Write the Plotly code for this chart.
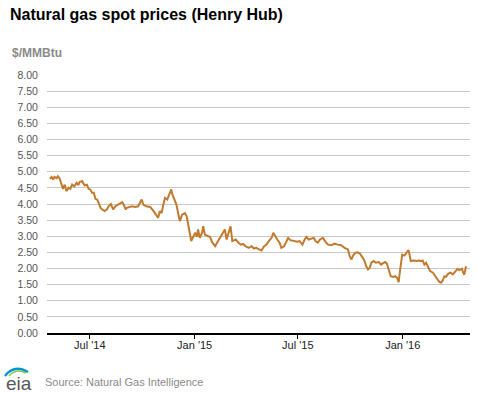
import plotly.graph_objects as go

dates = [
    "2014-04-22","2014-04-25","2014-04-28","2014-04-30",
    "2014-05-04","2014-05-06","2014-05-09","2014-05-12","2014-05-15","2014-05-18","2014-05-21","2014-05-25","2014-05-28","2014-05-31",
    "2014-06-04","2014-06-08","2014-06-11","2014-06-13","2014-06-18","2014-06-19","2014-06-22","2014-06-26","2014-06-29",
    "2014-07-02","2014-07-05","2014-07-08","2014-07-11","2014-07-14","2014-07-17","2014-07-20","2014-07-23","2014-07-27","2014-07-31",
    "2014-08-03","2014-08-07","2014-08-11","2014-08-15","2014-08-19","2014-08-24","2014-08-27","2014-08-30",
    "2014-09-02","2014-09-04","2014-09-09","2014-09-13","2014-09-19","2014-09-24","2014-09-30",
    "2014-10-03","2014-10-08","2014-10-15","2014-10-21","2014-10-26","2014-10-29",
    "2014-11-01","2014-11-04","2014-11-07","2014-11-10","2014-11-14","2014-11-17","2014-11-21","2014-11-23","2014-11-26","2014-11-30",
    "2014-12-03","2014-12-06","2014-12-10","2014-12-15","2014-12-18","2014-12-22","2014-12-26","2014-12-30",
    "2015-01-02","2015-01-05","2015-01-07","2015-01-10","2015-01-14","2015-01-16","2015-01-19","2015-01-25","2015-01-28",
    "2015-02-01","2015-02-06","2015-02-11","2015-02-16","2015-02-20","2015-02-23","2015-02-26",
    "2015-03-01","2015-03-05","2015-03-08","2015-03-14","2015-03-19","2015-03-23","2015-03-27","2015-03-31",
    "2015-04-06","2015-04-11","2015-04-15","2015-04-19","2015-04-24","2015-04-28",
    "2015-05-03","2015-05-07","2015-05-11","2015-05-16","2015-05-19","2015-05-22","2015-05-26","2015-05-30",
    "2015-06-02","2015-06-07","2015-06-11","2015-06-14","2015-06-18","2015-06-24","2015-06-30",
    "2015-07-04","2015-07-09","2015-07-13","2015-07-16","2015-07-20","2015-07-25","2015-07-29",
    "2015-08-01","2015-08-05","2015-08-09","2015-08-14","2015-08-19","2015-08-23","2015-08-29",
    "2015-09-03","2015-09-09","2015-09-15","2015-09-21","2015-09-27","2015-09-30",
    "2015-10-03","2015-10-06","2015-10-10","2015-10-14","2015-10-18","2015-10-23","2015-10-26","2015-10-29",
    "2015-11-01","2015-11-04","2015-11-07","2015-11-11","2015-11-15","2015-11-20","2015-11-24","2015-11-27",
    "2015-12-01","2015-12-04","2015-12-09","2015-12-11","2015-12-15","2015-12-19","2015-12-22","2015-12-25","2015-12-26","2015-12-29","2015-12-31",
    "2016-01-04","2016-01-07","2016-01-11","2016-01-13","2016-01-15","2016-01-20","2016-01-25","2016-01-29",
    "2016-02-02","2016-02-05","2016-02-08","2016-02-11","2016-02-15","2016-02-18","2016-02-23","2016-02-27",
    "2016-03-02","2016-03-05","2016-03-08","2016-03-11","2016-03-14","2016-03-17","2016-03-21","2016-03-25","2016-03-29",
    "2016-04-02","2016-04-06","2016-04-09","2016-04-14","2016-04-16","2016-04-18","2016-04-21",
]

prices = [
    4.78,4.84,4.76,4.84,
    4.80,4.86,4.80,4.60,4.47,4.60,4.40,4.50,4.47,4.60,
    4.55,4.66,4.58,4.68,4.71,4.66,4.58,4.60,4.47,
    4.45,4.35,4.35,4.16,4.14,3.98,3.88,3.83,3.78,3.83,
    3.93,4.00,3.83,3.93,3.98,4.04,4.06,3.96,
    3.83,3.88,3.90,3.93,3.91,3.93,4.14,
    3.98,3.93,3.91,3.78,3.62,3.57,
    3.78,3.72,3.98,4.19,4.14,4.29,4.45,4.29,4.14,3.98,
    3.72,3.47,3.67,3.72,3.62,3.21,2.85,3.00,
    3.11,2.98,3.21,2.95,3.11,3.31,3.05,3.00,2.98,
    2.80,2.69,2.85,3.00,3.11,3.21,2.90,
    3.05,3.31,2.85,2.90,2.80,2.74,2.76,2.69,
    2.64,2.69,2.62,2.64,2.59,2.56,
    2.69,2.74,2.85,2.95,3.11,3.00,2.90,2.80,
    2.64,2.69,2.85,2.95,2.88,2.85,2.83,
    2.85,2.74,2.90,2.98,2.90,2.92,2.95,
    2.85,2.80,2.90,2.95,2.82,2.74,2.72,
    2.77,2.74,2.72,2.64,2.59,2.38,
    2.28,2.40,2.49,2.50,2.46,2.33,2.23,2.07,
    1.97,2.02,2.18,2.23,2.18,2.20,2.12,2.16,
    2.20,2.16,1.92,1.76,1.74,1.76,1.71,1.58,1.76,2.28,2.43,
    2.40,2.49,2.57,2.43,2.23,2.25,2.23,2.25,
    2.23,2.25,2.12,2.18,2.02,1.92,1.87,1.76,
    1.66,1.59,1.56,1.62,1.76,1.74,1.84,1.87,1.82,
    1.92,1.99,1.95,1.99,1.87,1.81,2.07,
]

x_tick_vals = ["2014-07-01", "2015-01-01", "2015-07-01", "2016-01-01"]
x_tick_text = ["Jul '14", "Jan '15", "Jul '15", "Jan '16"]
y_tick_vals = [0, 0.5, 1, 1.5, 2, 2.5, 3, 3.5, 4, 4.5, 5, 5.5, 6, 6.5, 7, 7.5, 8]
y_tick_text = ["0.00", "0.50", "1.00", "1.50", "2.00", "2.50", "3.00", "3.50", "4.00",
               "4.50", "5.00", "5.50", "6.00", "6.50", "7.00", "7.50", "8.00"]

W, H = 477, 393
L, R, T, B = 47, 7, 75, 60
PW = W - L - R
PH = H - T - B


def px(xp):
    return (xp - L) / PW


def py(yp):
    return (H - B - yp) / PH


fig = go.Figure()
fig.add_trace(go.Scatter(
    x=dates, y=prices, mode="lines",
    line=dict(color="#c17a2e", width=2),
    hoverinfo="x+y",
))

fig.update_layout(
    width=W, height=H,
    margin=dict(l=L, r=R, t=T, b=B),
    paper_bgcolor="white", plot_bgcolor="white",
    showlegend=False,
    font=dict(family="Liberation Sans, Arial, sans-serif"),
    title=dict(
        text="<b>Natural gas spot prices (Henry Hub)</b>",
        font=dict(size=16, color="#000000"),
        x=10 / W, xanchor="left", xref="container",
        y=1 - 14 / H, yanchor="middle", yref="container",
    ),
    xaxis=dict(
        type="date",
        range=["2014-04-17", "2016-04-28"],
        tickvals=x_tick_vals, ticktext=x_tick_text,
        ticks="outside", ticklen=4, tickcolor="#000000", tickwidth=1,
        ticklabelstandoff=-3,
        showgrid=False, zeroline=False,
        showline=True, linecolor="#000000", linewidth=1.5,
        tickfont=dict(size=11, color="#222222"),
        fixedrange=True,
    ),
    yaxis=dict(
        range=[0, 8],
        tickvals=y_tick_vals, ticktext=y_tick_text,
        ticks="outside", ticklen=6, tickcolor="rgba(0,0,0,0)",
        showgrid=True, gridcolor="#c8c8c8", gridwidth=1,
        zeroline=False, showline=False,
        tickfont=dict(size=10.5, color="#555555"),
        fixedrange=True,
    ),
    annotations=[
        dict(text="<b>$/MMBtu</b>", xref="paper", yref="paper",
             x=px(10), y=py(53), xanchor="left", yanchor="middle",
             showarrow=False, font=dict(size=12, color="#8a8a8a")),
        dict(text="Source: Natural Gas Intelligence", xref="paper", yref="paper",
             x=px(43), y=py(382), xanchor="left", yanchor="middle",
             showarrow=False, font=dict(size=11, color="#8a8a8a")),
        dict(text="eia", xref="paper", yref="paper",
             x=px(4), y=py(383), xanchor="left", yanchor="middle",
             showarrow=False, font=dict(size=19, color="#58595b")),
    ],
    shapes=[
        dict(type="path", xref="paper", yref="paper",
             path="M {:.4f},{:.4f} Q {:.4f},{:.4f} {:.4f},{:.4f}".format(
                 px(5), py(376), px(14), py(364), px(28), py(372)),
             line=dict(color="#0096d6", width=2.5)),
        dict(type="path", xref="paper", yref="paper",
             path="M {:.4f},{:.4f} Q {:.4f},{:.4f} {:.4f},{:.4f}".format(
                 px(9), py(376), px(16), py(368), px(26), py(373)),
             line=dict(color="#8dc63f", width=1.5)),
    ],
)

fig.write_html(
    "out.html",
    config=dict(displayModeBar=False),
    post_script="document.body.style.margin='0px';document.body.style.padding='0px';document.body.style.overflow='hidden';",
)
